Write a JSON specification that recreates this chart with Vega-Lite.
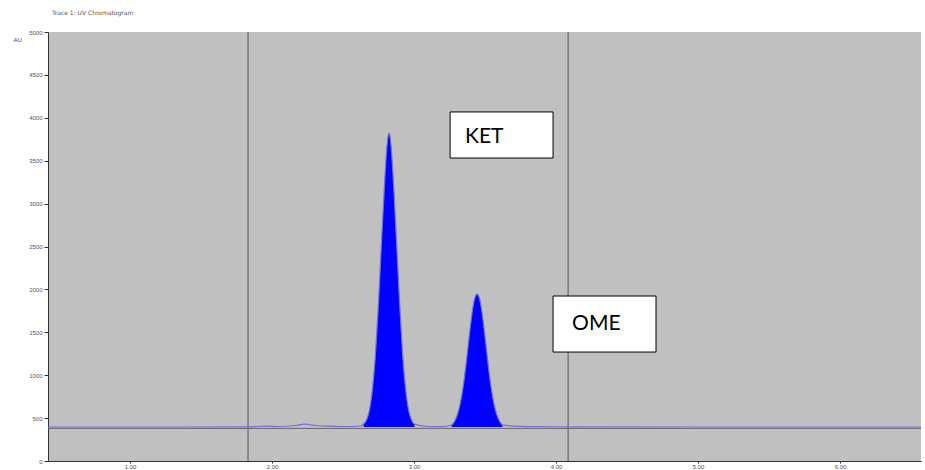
{
  "$schema": "https://vega.github.io/schema/vega-lite/v6.json",
  "width": 873,
  "height": 429,
  "autosize": "none",
  "padding": {"left": 48, "top": 32, "right": 4, "bottom": 9},
  "background": "white",
  "view": {"fill": "#c0c0c0", "stroke": null},
  "title": {"text": "Trace 1: UV Chromatogram", "anchor": "start", "frame": "group", "fontSize": 6, "fontWeight": "normal", "color": "#555", "offset": 13, "dx": 4, "font": "DejaVu Sans"},
  "datasets": {
    "trace": [
      {"t": 0.4225, "v": 396, "peak": null},
      {"t": 1.0, "v": 396, "peak": null},
      {"t": 1.831, "v": 398, "peak": null},
      {"t": 1.951, "v": 406, "peak": null},
      {"t": 2.056, "v": 402, "peak": null},
      {"t": 2.162, "v": 414, "peak": null},
      {"t": 2.232, "v": 430, "peak": null},
      {"t": 2.303, "v": 414, "peak": null},
      {"t": 2.408, "v": 406, "peak": null},
      {"t": 2.514, "v": 402, "peak": null},
      {"t": 2.62, "v": 408, "peak": null},
      {"t": 2.645, "v": 430, "peak": "KET"},
      {"t": 2.666, "v": 480, "peak": "KET"},
      {"t": 2.687, "v": 600, "peak": "KET"},
      {"t": 2.708, "v": 850, "peak": "KET"},
      {"t": 2.729, "v": 1260, "peak": "KET"},
      {"t": 2.75, "v": 1850, "peak": "KET"},
      {"t": 2.771, "v": 2550, "peak": "KET"},
      {"t": 2.792, "v": 3220, "peak": "KET"},
      {"t": 2.808, "v": 3640, "peak": "KET"},
      {"t": 2.824, "v": 3823, "peak": "KET"},
      {"t": 2.84, "v": 3640, "peak": "KET"},
      {"t": 2.856, "v": 3220, "peak": "KET"},
      {"t": 2.877, "v": 2550, "peak": "KET"},
      {"t": 2.898, "v": 1850, "peak": "KET"},
      {"t": 2.919, "v": 1260, "peak": "KET"},
      {"t": 2.94, "v": 850, "peak": "KET"},
      {"t": 2.961, "v": 600, "peak": "KET"},
      {"t": 2.982, "v": 480, "peak": "KET"},
      {"t": 3.003, "v": 430, "peak": "KET"},
      {"t": 3.1, "v": 402, "peak": null},
      {"t": 3.2, "v": 400, "peak": null},
      {"t": 3.265, "v": 420, "peak": "OME"},
      {"t": 3.286, "v": 465, "peak": "OME"},
      {"t": 3.307, "v": 550, "peak": "OME"},
      {"t": 3.328, "v": 690, "peak": "OME"},
      {"t": 3.349, "v": 900, "peak": "OME"},
      {"t": 3.37, "v": 1180, "peak": "OME"},
      {"t": 3.391, "v": 1490, "peak": "OME"},
      {"t": 3.412, "v": 1760, "peak": "OME"},
      {"t": 3.428, "v": 1900, "peak": "OME"},
      {"t": 3.444, "v": 1946, "peak": "OME"},
      {"t": 3.46, "v": 1900, "peak": "OME"},
      {"t": 3.476, "v": 1760, "peak": "OME"},
      {"t": 3.497, "v": 1490, "peak": "OME"},
      {"t": 3.518, "v": 1180, "peak": "OME"},
      {"t": 3.539, "v": 900, "peak": "OME"},
      {"t": 3.56, "v": 690, "peak": "OME"},
      {"t": 3.581, "v": 550, "peak": "OME"},
      {"t": 3.602, "v": 465, "peak": "OME"},
      {"t": 3.623, "v": 420, "peak": "OME"},
      {"t": 3.75, "v": 404, "peak": null},
      {"t": 3.9, "v": 400, "peak": null},
      {"t": 4.085, "v": 398, "peak": null},
      {"t": 5.0, "v": 396, "peak": null},
      {"t": 6.57, "v": 396, "peak": null}
    ],
    "markers": [{"t": 1.831}, {"t": 4.085}],
    "boxes": [
      {"label": "KET", "x1": 3.254, "x2": 3.979, "y1": 4068, "y2": 3531, "tx": 3.359, "ty": 3776},
      {"label": "OME", "x1": 3.979, "x2": 4.704, "y1": 1923, "y2": 1270, "tx": 4.113, "ty": 1597}
    ]
  },
  "layer": [
    {
      "data": {"name": "markers"},
      "mark": {"type": "rule", "color": "#555", "strokeWidth": 1},
      "encoding": {
        "x": {"field": "t", "type": "quantitative"}
      }
    },
    {
      "data": {"values": [{"b": 380}]},
      "mark": {"type": "rule", "color": "#666", "strokeWidth": 1},
      "encoding": {"y": {"field": "b", "type": "quantitative"}}
    },
    {
      "data": {"name": "trace"},
      "transform": [{"filter": "datum.peak != null"}],
      "mark": {"type": "area", "color": "#0000ff", "interpolate": "monotone"},
      "encoding": {
        "x": {"field": "t", "type": "quantitative"},
        "y": {"field": "v", "type": "quantitative"},
        "y2": {"datum": 396},
        "detail": {"field": "peak"}
      }
    },
    {
      "data": {"name": "trace"},
      "mark": {"type": "line", "color": "#7070d8", "strokeWidth": 1.2, "interpolate": "monotone"},
      "encoding": {
        "x": {"field": "t", "type": "quantitative", "scale": {"domain": [0.4225, 6.57], "nice": false, "zero": false},
          "axis": {"values": [1, 2, 3, 4, 5, 6], "format": ".2f", "title": null, "grid": false, "labelFontSize": 6, "labelColor": "#555", "domainColor": "#333", "tickColor": "#333", "tickSize": 2, "labelPadding": 0}},
        "y": {"field": "v", "type": "quantitative", "scale": {"domain": [0, 5000], "nice": false},
          "axis": {"values": [0, 500, 1000, 1500, 2000, 2500, 3000, 3500, 4000, 4500, 5000], "format": "d", "title": "AU", "titleAngle": 0, "titleFontSize": 6, "titleFontWeight": "normal", "titleColor": "#444", "titleX": -35, "titleY": 10, "titleAlign": "left", "grid": false, "labelFontSize": 6, "labelColor": "#555", "domainColor": "#333", "tickColor": "#333", "tickSize": 4, "labelPadding": 2}}
      }
    },
    {
      "data": {"name": "boxes"},
      "mark": {"type": "rect", "fill": "white", "stroke": "black", "strokeWidth": 1},
      "encoding": {
        "x": {"field": "x1", "type": "quantitative"},
        "x2": {"field": "x2"},
        "y": {"field": "y1", "type": "quantitative"},
        "y2": {"field": "y2"}
      }
    },
    {
      "data": {"name": "boxes"},
      "mark": {"type": "text", "align": "left", "baseline": "middle", "fontSize": 21, "font": "Lato", "color": "black"},
      "encoding": {
        "x": {"field": "tx", "type": "quantitative"},
        "y": {"field": "ty", "type": "quantitative"},
        "text": {"field": "label"}
      }
    }
  ]
}
